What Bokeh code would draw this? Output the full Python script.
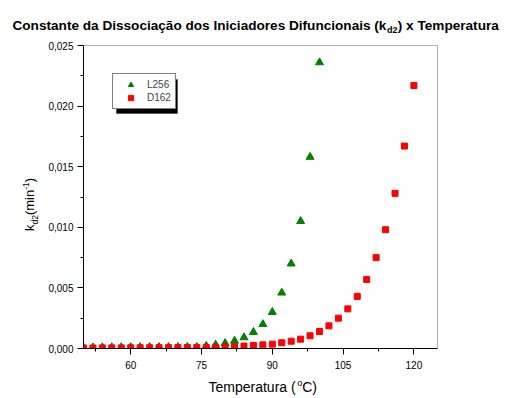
from bokeh.plotting import figure
from bokeh.models import (Label, Legend, LegendItem, BoxAnnotation, FixedTicker,
                          CustomJSTickFormatter, Range1d)
from bokeh.embed import file_html
from bokeh.resources import INLINE
import math

# ---- data ----
temp_L256 = [50, 52, 54, 56, 58, 60, 62, 64, 66, 68, 70, 72, 74,
             76, 78, 80, 82, 84, 86, 88, 90, 92, 94, 96, 98, 100]
kd2_L256 = [0.00008, 0.00008, 0.00009, 0.00009, 0.0001, 0.0001, 0.0001,
            0.00011, 0.00011, 0.00011, 0.00011, 0.00011, 0.00011,
            0.0002, 0.0003, 0.00044, 0.00063, 0.00091, 0.00135, 0.0020,
            0.0030, 0.0046, 0.0070, 0.0105, 0.0158, 0.0236]
temp_D162 = [50, 52, 54, 56, 58, 60, 62, 64, 66, 68, 70, 72, 74, 76, 78,
             80, 82, 84, 86, 88, 90, 92, 94, 96, 98, 100, 102, 104, 106,
             108, 110, 112, 114, 116, 118, 120]
kd2_D162 = [0.00004, 0.00004, 0.00005, 0.00005, 0.00005, 0.00006, 0.00006,
            0.00006, 0.00007, 0.00007, 0.00008, 0.00008, 0.00009, 0.00009,
            0.0001, 0.00011, 0.00015, 0.0002, 0.00025, 0.0003, 0.00036,
            0.00047, 0.0006, 0.00077, 0.00105, 0.0014, 0.00187, 0.0025,
            0.00327, 0.0043, 0.0057, 0.0075, 0.0098, 0.0128, 0.0167, 0.0217]
x_lim = (50, 125)
y_lim = (0.0, 0.025)
x_major = [60, 75, 90, 105, 120]
x_minor = [52.5, 67.5, 82.5, 97.5, 112.5]
y_major = [0.0, 0.005, 0.010, 0.015, 0.020, 0.025]
y_minor = [0.0025, 0.0075, 0.0125, 0.0175, 0.0225]

FONT = "Liberation Sans"
W, H = 503, 396
BL, BT, BR, BB = 83, 45, 437, 348   # plot box edges in canvas px

# the Bokeh frame fills the canvas; ranges chosen so the data box maps to BL..BR, BT..BB
xs_ = (x_lim[1] - x_lim[0]) / (BR - BL)
ys_ = (y_lim[1] - y_lim[0]) / (BB - BT)
x_range = Range1d(x_lim[0] - BL * xs_, x_lim[1] + (W - BR) * xs_)
y_range = Range1d(y_lim[0] - (H - BB) * ys_, y_lim[1] + BT * ys_)

p = figure(width=W, height=H, output_backend="svg", toolbar_location=None,
           x_range=x_range, y_range=y_range,
           min_border_left=0, min_border_right=0,
           min_border_top=0, min_border_bottom=0)
p.title.visible = False
p.xgrid.visible = False
p.ygrid.visible = False
p.outline_line_color = None
p.background_fill_color = "white"
p.border_fill_color = "white"

for ax in (p.xaxis[0], p.yaxis[0]):
    ax.axis_line_color = "black"
    ax.major_tick_line_color = "black"
    ax.minor_tick_line_color = "black"
    ax.major_tick_out = 6
    ax.major_tick_in = 0
    ax.minor_tick_out = 3
    ax.minor_tick_in = 0
    ax.major_label_text_font = FONT
    ax.major_label_text_font_size = "10px"
    ax.major_label_text_color = "black"

p.xaxis.fixed_location = y_lim[0]
p.yaxis.fixed_location = x_lim[0]
p.xaxis.bounds = x_lim
p.yaxis.bounds = y_lim
p.xaxis.ticker = FixedTicker(ticks=x_major, minor_ticks=x_minor)
p.yaxis.ticker = FixedTicker(ticks=y_major, minor_ticks=y_minor)
p.yaxis.formatter = CustomJSTickFormatter(code="return tick.toFixed(3).replace('.', ',');")
p.xaxis.major_label_standoff = 6
p.yaxis.major_label_standoff = 4

r1 = p.scatter(temp_L256, kd2_L256, marker="triangle", size=8, level="underlay",
               fill_color="#008000", line_color="#008000")
r2 = p.scatter(temp_D162, kd2_D162, marker="square", size=6, level="underlay",
               fill_color="#ff0000", line_color="#ff0000")

# white masks so markers are clipped at the plot box like in the original
p.add_layout(BoxAnnotation(left=x_range.start, right=x_lim[0],
                           bottom=y_range.start, top=y_range.end,
                           fill_color="white", fill_alpha=1.0, line_color=None,
                           level="glyph"))
p.add_layout(BoxAnnotation(left=x_range.start, right=x_range.end,
                           bottom=y_range.start, top=y_lim[0],
                           fill_color="white", fill_alpha=1.0, line_color=None,
                           level="glyph"))
# plot box outline
p.add_layout(BoxAnnotation(left=x_lim[0], right=x_lim[1],
                           bottom=y_lim[0], top=y_lim[1],
                           fill_alpha=0.0, line_color="black", line_width=1,
                           level="guide"))

# legend shadow + legend (screen px from frame bottom-left)
lg_l, lg_t, lg_w, lg_h = 112, 75, 61, 34
p.add_layout(BoxAnnotation(left=lg_l + 4, right=lg_l + lg_w + 4,
                           top=H - lg_t - 4, bottom=H - lg_t - lg_h - 4,
                           left_units="screen", right_units="screen",
                           top_units="screen", bottom_units="screen",
                           fill_color="black", fill_alpha=1.0, line_color="black"))
legend = Legend(items=[LegendItem(label="L256", renderers=[r1]),
                       LegendItem(label="D162", renderers=[r2])],
                location=(lg_l, H - lg_t - lg_h),
                padding=4, spacing=0, margin=0,
                glyph_width=27, glyph_height=13, label_height=13,
                label_width=20, label_standoff=3,
                label_text_font=FONT, label_text_font_size="10px",
                border_line_color="black", border_line_width=1,
                background_fill_color="white", background_fill_alpha=1.0)
p.add_layout(legend)

SHIFT = 0.35  # empirical baseline correction (fraction of font size)


def lab(text, px, py, size, bold=False, angle=0.0, align="left"):
    """px, py: picture coordinates (baseline) from the top-left corner."""
    if angle:
        px = px - SHIFT * size
    else:
        py = py - SHIFT * size
    p.add_layout(Label(x=px, y=H - py, x_units="screen", y_units="screen",
                       text=text, text_font=FONT, text_font_size=f"{size}px",
                       text_font_style="bold" if bold else "normal",
                       text_color="black", text_align=align,
                       text_baseline="alphabetic", angle=angle))

# title
ts = 13.6
lab("Constante da Dissociação dos Iniciadores Difuncionais (k", 12, 29.3, ts, bold=True)
x_sub = 12 + 27.508 * ts
lab("d2", x_sub + 0.5, 33, 9, bold=True)
lab(") x Temperatura", x_sub + 11.2, 29.3, ts, bold=True)

# y axis label (rotated)
ys = 13
a = math.pi / 2
y0 = 230.5
lab("k", 33.5, y0, ys, angle=a)
y1 = y0 - 0.5 * ys
lab("d2", 37, y1, 8.5, angle=a)
y2 = y1 - 1.112 * 8.5
lab("(min", 33.5, y2, ys, angle=a)
y3 = y2 - 1.944 * ys
lab("-1", 28.5, y3, 8.5, angle=a)
y4 = y3 - 0.889 * 8.5
lab(")", 33.5, y4, ys, angle=a)

# x axis label
xs = 14
lab("Temperatura (", 208, 391, xs)
xo = 208 + 6.335 * xs
lab("o", xo, 385.5, 9)
lab("C)", xo + 5.0, 391, xs)

open("out.html", "w").write(file_html(p, INLINE))
